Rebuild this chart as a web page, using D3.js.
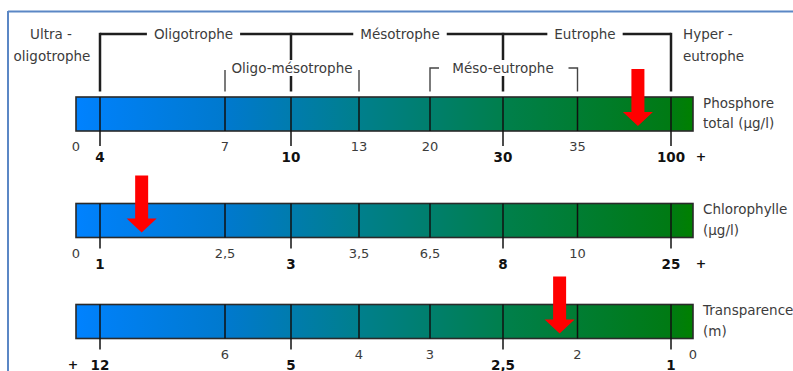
<!DOCTYPE html>
<html><head><meta charset="utf-8">
<script src="https://cdn.jsdelivr.net/npm/d3@7"></script>
<style>
html,body{margin:0;padding:0;background:#fff;}
svg{display:block;}
</style></head>
<body>
<svg id="chart" width="793" height="371"></svg>
<script>
// ---------------- DATA ----------------
const trophicStages = ["Ultra -|oligotrophe", "Oligotrophe", "Mésotrophe", "Eutrophe", "Hyper -|eutrophe"];
const subStages = ["Oligo-mésotrophe", "Méso-eutrophe"];

const indicators = ["Phosphore|total (µg/l)", "Chlorophylle|(µg/l)", "Transparence|(m)"];

const phosphoreValues = [0, 4, 7, 10, 13, 20, 30, 35, 100];
const phosphoreLabels = ["0", "4", "7", "10", "13", "20", "30", "35", "100 +"];

const chlorophylleValues = [0, 1, 2.5, 3, 3.5, 6.5, 8, 10, 25];
const chlorophylleLabels = ["0", "1", "2,5", "3", "3,5", "6,5", "8", "10", "25 +"];

const transparenceValues = [12, 6, 5, 4, 3, 2.5, 2, 1, 0];
const transparenceLabels = ["+ 12", "6", "5", "4", "3", "2,5", "2", "1", "0"];

// measured lake values (red arrows)
const lakeValues = [77, 1.5, 2.12];

// boundaries (index) with bold label and tick below
const majorBoundaries = [1, 3, 6, 8];

// ---------------- LAYOUT ----------------
const svg = d3.select("#chart");
const W = 793, H = 371;
// boundary index -> x (schematic, non-uniform)
const idxX = d3.scaleLinear()
  .domain([0,1,2,3,4,5,6,7,8,9])
  .range([76,100,225,291,359,430,503,577.5,671,693]);

const barTops = [97, 203.5, 304.5];
const barH = 34;
const tickLen = [15, 11, 11];
const textColor = "#3c3c3c";
const font = "'DejaVu Sans', Verdana, sans-serif";
const fs = 13.5;

// frame
svg.append("line").attr("x1", 8).attr("x2", W).attr("y1", 11.5).attr("y2", 11.5)
  .attr("stroke", "#5b87c5").attr("stroke-width", 2);
svg.append("line").attr("x1", 8).attr("x2", 8).attr("y1", 11).attr("y2", H)
  .attr("stroke", "#5b87c5").attr("stroke-width", 2);

// gradient
const defs = svg.append("defs");
const grad = defs.append("linearGradient").attr("id", "bargrad")
  .attr("gradientUnits", "userSpaceOnUse")
  .attr("x1", idxX(0)).attr("x2", idxX(9)).attr("y1", 0).attr("y2", 0);
[[0, "#0082ff"], [0.04, "#0080f6"], [0.25, "#0079cc"], [0.46, "#007f8c"], [0.7, "#007f4a"], [0.96, "#007a14"], [1, "#008000"]]
  .forEach(([o, c]) => grad.append("stop").attr("offset", o).attr("stop-color", c));

// ---------------- TOP BRACKETS ----------------
const yMain = 34, yBot = 91.5, ySub = 68;
const gTop = svg.append("g");
gTop.append("line").attr("x1", idxX(1)).attr("x2", idxX(8)).attr("y1", yMain).attr("y2", yMain)
  .attr("stroke", "#1e1e1e").attr("stroke-width", 2.5);
[1, 3, 6, 8].forEach(i => {
  gTop.append("line").attr("x1", idxX(i)).attr("x2", idxX(i))
    .attr("y1", yMain - 1.2).attr("y2", yBot)
    .attr("stroke", "#1e1e1e").attr("stroke-width", 2.5);
});
gTop.append("path")
  .attr("d", `M${idxX(2)},${ySub+2}V${yBot} M${idxX(4)},${ySub+2}V${yBot}`)
  .attr("fill", "none").attr("stroke", "#444").attr("stroke-width", 1.4);
gTop.append("path")
  .attr("d", `M${idxX(5)+9},${ySub}H${idxX(5)}V${yBot} M${idxX(7)-9},${ySub}H${idxX(7)}V${yBot}`)
  .attr("fill", "none").attr("stroke", "#444").attr("stroke-width", 1.4);

function labelWithBg(g, text, x, y, anchor, pad) {
  const t = g.append("text").attr("x", x).attr("y", y).attr("text-anchor", anchor)
    .attr("font-family", font).attr("font-size", fs).attr("fill", textColor).text(text);
  const bb = t.node().getBBox();
  g.insert("rect", () => t.node())
    .attr("x", bb.x - pad).attr("y", bb.y).attr("width", bb.width + 2 * pad).attr("height", bb.height)
    .attr("fill", "#fff");
  return t;
}
const stageX = [51, (idxX(1) + idxX(3)) / 2 - 2, (idxX(3) + idxX(6)) / 2 + 3, (idxX(6) + idxX(8)) / 2 - 2, 683];
trophicStages.forEach((s, i) => {
  const parts = s.split("|");
  if (parts.length === 2) {
    const anchor = i === 0 ? "middle" : "start";
    parts.forEach((p, k) => {
      gTop.append("text").attr("x", stageX[i] + (i === 0 && k === 1 ? 1 : 0)).attr("y", yMain + 5 + k * 21.5)
        .attr("text-anchor", anchor).attr("font-family", font).attr("font-size", fs)
        .attr("fill", textColor).text(p);
    });
  } else {
    labelWithBg(gTop, s, stageX[i], yMain + 5, "middle", 7);
  }
});
labelWithBg(gTop, subStages[0], (idxX(2) + idxX(4)) / 2, ySub + 5, "middle", 2);
labelWithBg(gTop, subStages[1], idxX(6), ySub + 5, "middle", 4);

// ---------------- BARS ----------------
const series = [
  {values: phosphoreValues, labels: phosphoreLabels, offset: 0},
  {values: chlorophylleValues, labels: chlorophylleLabels, offset: 0},
  {values: transparenceValues, labels: transparenceLabels, offset: 1}
];

series.forEach((s, si) => {
  const y0 = barTops[si];
  const g = svg.append("g");
  const xScale = d3.scaleLinear()
    .domain(s.values)
    .range(s.values.map((_, i) => idxX(i + s.offset)));

  g.append("rect").attr("x", idxX(0)).attr("y", y0).attr("width", idxX(9) - idxX(0)).attr("height", barH)
    .attr("fill", "url(#bargrad)").attr("stroke", "#2a2a2a").attr("stroke-width", 1.6);

  d3.range(1, 9).forEach(i => {
    const major = majorBoundaries.includes(i);
    g.append("line").attr("x1", idxX(i)).attr("x2", idxX(i))
      .attr("y1", y0).attr("y2", y0 + barH + (major ? tickLen[si] : 0))
      .attr("stroke", "#111").attr("stroke-width", 1.5);
  });

  s.labels.forEach((lab, li) => {
    const idx = li + s.offset;
    const x = xScale(s.values[li]);
    const major = majorBoundaries.includes(idx);
    const m = lab.match(/^(\+ )?([\d,]+)( \+)?$/);
    const num = m[2];
    const yl = y0 + barH + (major ? 31 : 20);
    g.append("text").attr("x", x).attr("y", yl).attr("text-anchor", "middle")
      .attr("font-family", font).attr("font-size", major ? 13.5 : 13)
      .attr("font-weight", major ? "bold" : "normal")
      .attr("fill", major ? "#111" : textColor).text(num);
    if (m[1] || m[3]) {
      g.append("text").attr("x", m[3] ? x + 30 : x - 27).attr("y", yl - 1)
        .attr("text-anchor", "middle").attr("font-family", font).attr("font-size", 12.5)
        .attr("font-weight", "bold").attr("fill", "#111").text("+");
    }
  });

  const parts = indicators[si].split("|");
  parts.forEach((p, k) => {
    g.append("text").attr("x", 703).attr("y", y0 + 10.5 + k * 20.5)
      .attr("font-family", font).attr("font-size", fs).attr("fill", textColor).text(p);
  });

  const ax = xScale(lakeValues[si]);
  const tip = y0 + barH - 5;
  const top = tip - 57, headTop = tip - 14, sw = 6.5, hw = 15;
  g.append("path")
    .attr("d", `M${ax - sw},${top}H${ax + sw}V${headTop}H${ax + hw}L${ax},${tip}L${ax - hw},${headTop}H${ax - sw}Z`)
    .attr("fill", "#ff0000");
});
</script>
</body></html>
